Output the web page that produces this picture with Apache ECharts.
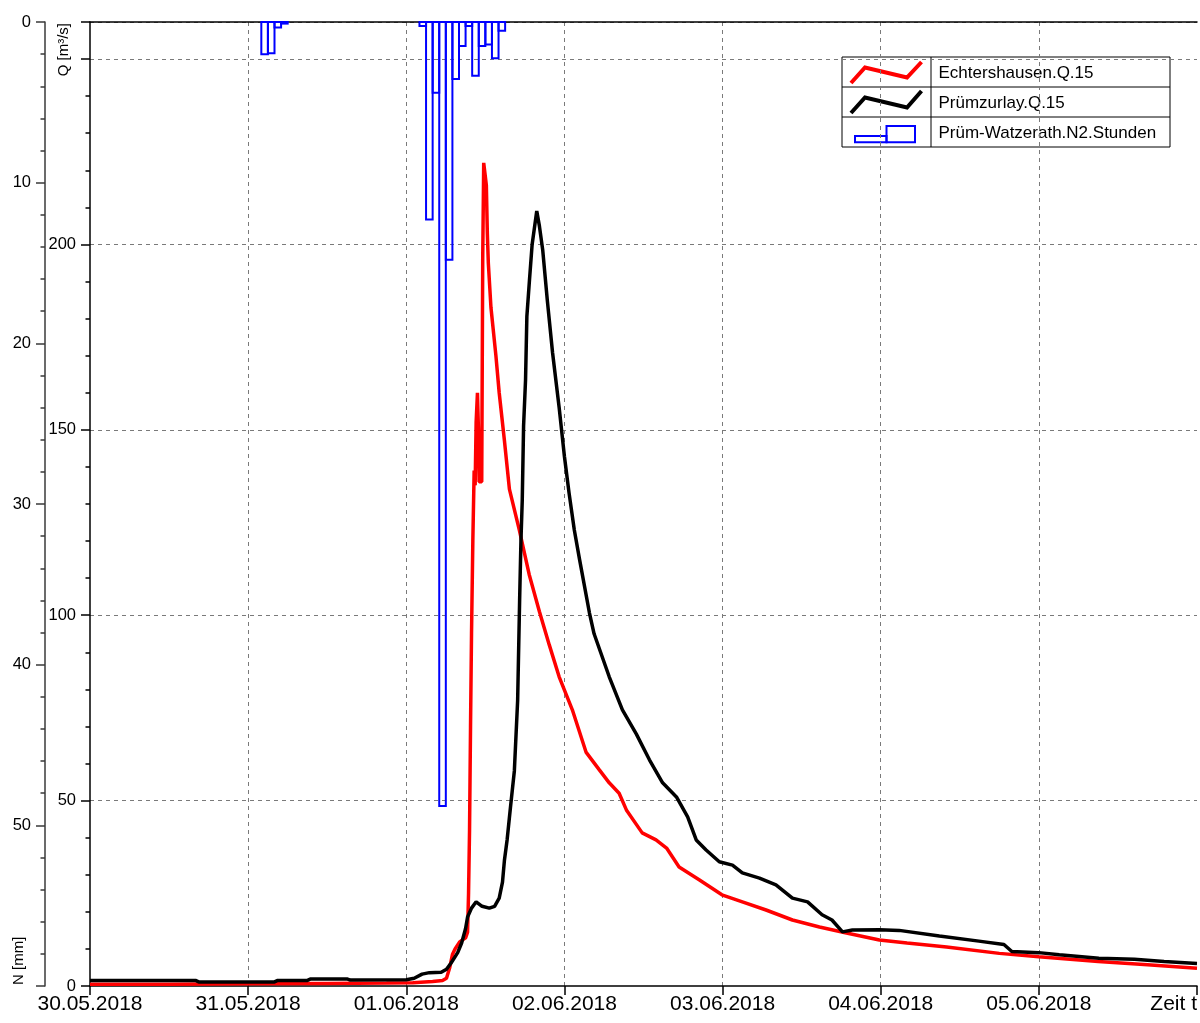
<!DOCTYPE html>
<html><head><meta charset="utf-8">
<script src="https://cdn.jsdelivr.net/npm/echarts@6/dist/echarts.min.js"></script>
<style>html,body{margin:0;padding:0;background:#fff}#c{width:1200px;height:1023px}</style>
</head><body><div id="c"></div>
<script>
// time in hours since 30.05.2018 00:00
const dayLabels = ['30.05.2018','31.05.2018','01.06.2018','02.06.2018','03.06.2018','04.06.2018','05.06.2018','Zeit t'];

// Echtershausen.Q.15  (Q in m³/s)
const echT = [0,12,24,36,45,49,52,53.5,54.1,54.6,55.0,55.4,56.1,57.0,57.3,57.45,57.6,57.75,57.9,58.1,58.3,58.45,58.6,58.8,58.95,59.05,59.45,59.6,59.75,59.95,60.15,60.3,60.45,60.85,61.6,62.1,62.9,63.65,65.15,66.65,68.2,69.7,71.2,73.2,75.3,77.3,78.8,80.3,81.4,83.8,85.9,87.5,89.4,92.5,95.9,99.0,102.6,106.6,110.7,114.8,119.8,124,130,138,144,153,160.5,168];
const echQ = [0.5,0.5,0.6,0.7,0.8,0.9,1.2,1.5,2.1,5,8.5,10,11.9,13,14.5,25,42,70,95,120,139,135,152,160,150,136,136,196,222,219,216,203,195,183,170,160,147,134,123,111,101,92,83.4,74.5,63,58.3,54.8,52,47.5,41.3,39.4,37.2,32.1,28.6,24.6,22.7,20.5,17.8,15.9,14.3,12.4,11.6,10.5,8.8,7.9,6.6,5.7,4.8];

// Prümzurlay.Q.15  (Q in m³/s)
const prmT = [0,16,16.5,28,28.5,33,33.5,39,39.5,48,49.2,50.4,51.5,53.3,54.1,54.8,55.8,56.4,57.0,57.3,57.9,58.6,59.5,60.6,61.4,62.1,62.6,62.9,63.3,63.8,64.4,64.9,65.2,65.4,65.6,65.8,66.1,66.3,66.7,67.1,67.8,68.2,68.7,69.4,70.2,71.2,72.0,72.7,73.5,74.3,75.8,76.5,78.8,80.8,82.9,84.9,86.9,89.0,90.7,92.0,93.5,95.5,97.5,99.0,101.6,104.1,106.6,108.9,111.1,112.6,114.2,115.7,119.8,122.8,128.9,134.9,138.7,139.9,144,147.1,153.1,158.5,163,168];
const prmQ = [1.5,1.5,1.1,1.1,1.5,1.5,1.9,1.9,1.6,1.7,2.1,3.2,3.6,3.7,4.5,6.2,9,11.6,15.5,18.6,21,22.7,21.5,21,21.5,23.7,28,34,39.4,48,58,77,104,120,131,151,163.5,180.6,190.5,200,209,205,198.6,185,170.8,156,142.8,133,123,115,100.6,95,83.4,74.5,68,61,54.8,51,45.6,39.4,36.7,33.5,32.6,30.5,29.1,27.3,23.7,22.7,19.2,17.8,14.6,15.1,15.2,15,13.5,12.1,11.2,9.3,9.0,8.4,7.5,7.2,6.6,6.1];

// Prüm-Watzerath.N2.Stunden  (hourly precipitation, N in mm; start hour of each bar)
const rainStart = [26,27,28,29,50,51,52,53,54,55,56,57,58,59,60,61,62];
const rainN     = [2.0,1.95,0.35,0.1,0.25,12.3,4.4,48.8,14.8,3.55,1.5,0.25,3.35,1.5,1.4,2.26,0.54];

const FONT = '"Liberation Sans", Arial, sans-serif';
const grid = {left: 90, top: 22, right: 3, bottom: 37};

const chart = echarts.init(document.getElementById('c'), null, {renderer: 'canvas'});

const dash = {type: [4, 4], color: '#7a7a7a', width: 1};

chart.setOption({
  animation: false,
  backgroundColor: '#fff',
  grid: grid,
  xAxis: [{
    type: 'value', min: 0, max: 168, interval: 24,
    axisLine: {show: true, onZero: false, lineStyle: {color: '#000', width: 1.5}},
    axisTick: {show: true, length: 9, lineStyle: {color: '#000', width: 1.5}},
    axisLabel: {
      fontSize: 21, color: '#000', fontFamily: FONT, margin: 8,
      showMinLabel: true, showMaxLabel: true, alignMaxLabel: 'right',
      formatter: v => dayLabels[Math.round(v / 24)]
    },
    splitLine: {show: true, showMinLine: false, showMaxLine: false, lineStyle: dash}
  }, {
    type: 'value', min: 0, max: 168, position: 'top',
    axisLine: {show: true, onZero: false, lineStyle: {color: '#000', width: 1.5}},
    axisTick: {show: false}, axisLabel: {show: false}, splitLine: {show: false}
  }],
  yAxis: [{
    type: 'value', min: 0, max: 260, interval: 50, position: 'left',
    axisLine: {show: true, onZero: false, lineStyle: {color: '#000', width: 1.5}},
    axisTick: {show: true, length: 9, lineStyle: {color: '#000', width: 1.5}},
    minorTick: {show: true, splitNumber: 5, length: 4.5, lineStyle: {color: '#000', width: 1.5}},
    axisLabel: {fontSize: 16.5, color: '#000', fontFamily: FONT, margin: 14,
      showMaxLabel: false,
      formatter: v => (v % 50 === 0 && v <= 200) ? String(v) : ''},
    splitLine: {show: true, showMinLine: false, lineStyle: dash}
  }, {
    type: 'value', min: 0, max: 60, interval: 10, position: 'left', offset: 45, inverse: true,
    axisLine: {show: true, onZero: false, lineStyle: {color: '#3a3a3a', width: 1.5}},
    axisTick: {show: true, length: 9, lineStyle: {color: '#3a3a3a', width: 1.5}},
    minorTick: {show: true, splitNumber: 5, length: 4.5, lineStyle: {color: '#3a3a3a', width: 1.5}},
    axisLabel: {fontSize: 16.5, color: '#000', fontFamily: FONT, margin: 14,
      formatter: v => v === 60 ? '' : String(v)},
    splitLine: {show: false}
  }],
  series: [{
    name: 'Echtershausen.Q.15', type: 'line', xAxisIndex: 0, yAxisIndex: 0,
    showSymbol: false, symbol: 'none',
    lineStyle: {color: '#ff0000', width: 3.5}, itemStyle: {color: '#ff0000'},
    data: echT.map((t, i) => [t, echQ[i]]), z: 3
  }, {
    name: 'Prümzurlay.Q.15', type: 'line', xAxisIndex: 0, yAxisIndex: 0,
    showSymbol: false, symbol: 'none',
    lineStyle: {color: '#000000', width: 3.5}, itemStyle: {color: '#000000'},
    data: prmT.map((t, i) => [t, prmQ[i]]), z: 4
  }, {
    name: 'Prüm-Watzerath.N2.Stunden', type: 'custom', xAxisIndex: 0, yAxisIndex: 1,
    encode: {x: [0, 1], y: 2},
    data: rainStart.map((s, i) => [s, s + 1, rainN[i]]),
    renderItem: function (params, api) {
      const p0 = api.coord([api.value(0), 0]);
      const p1 = api.coord([api.value(1), api.value(2)]);
      return {
        type: 'rect',
        shape: {x: p0[0], y: p0[1], width: p1[0] - p0[0], height: p1[1] - p0[1]},
        style: {fill: 'none', stroke: '#0000ff', lineWidth: 2}
      };
    },
    z: 5
  }],
  graphic: [
    // axis names
    {type: 'text', x: 63.5, y: 23, rotation: Math.PI / 2,
     style: {text: 'Q [m³/s]', font: '15px ' + FONT, fill: '#000', align: 'right', verticalAlign: 'middle'}},
    {type: 'text', x: 18.5, y: 985, rotation: Math.PI / 2,
     style: {text: 'N [mm]', font: '15px ' + FONT, fill: '#000', align: 'left', verticalAlign: 'middle'}},
    // legend table
    {type: 'group', z: 100, children: [
      {type: 'rect', shape: {x: 842, y: 57, width: 328, height: 90}, style: {fill: '#fff', stroke: '#000', lineWidth: 1}},
      {type: 'line', shape: {x1: 842, y1: 87, x2: 1170, y2: 87}, style: {stroke: '#000', lineWidth: 1}},
      {type: 'line', shape: {x1: 842, y1: 117, x2: 1170, y2: 117}, style: {stroke: '#000', lineWidth: 1}},
      {type: 'line', shape: {x1: 931, y1: 57, x2: 931, y2: 147}, style: {stroke: '#000', lineWidth: 1}},
      {type: 'polyline', shape: {points: [[851, 83], [865, 67.5], [907, 77.5], [921.5, 62]]}, style: {stroke: '#ff0000', lineWidth: 4, fill: 'none'}},
      {type: 'polyline', shape: {points: [[851, 113], [865, 97.5], [907, 107.5], [921.5, 91]]}, style: {stroke: '#000', lineWidth: 4, fill: 'none'}},
      {type: 'rect', shape: {x: 855, y: 136, width: 31.5, height: 6.3}, style: {fill: 'none', stroke: '#0000ff', lineWidth: 2}},
      {type: 'rect', shape: {x: 886.5, y: 126, width: 28.5, height: 16.3}, style: {fill: 'none', stroke: '#0000ff', lineWidth: 2}},
      {type: 'text', x: 938.5, y: 73, style: {text: 'Echtershausen.Q.15', font: '17px ' + FONT, fill: '#000', verticalAlign: 'middle'}},
      {type: 'text', x: 938.5, y: 103, style: {text: 'Prümzurlay.Q.15', font: '17px ' + FONT, fill: '#000', verticalAlign: 'middle'}},
      {type: 'text', x: 938.5, y: 133, style: {text: 'Prüm-Watzerath.N2.Stunden', font: '17px ' + FONT, fill: '#000', verticalAlign: 'middle'}}
    ]}
  ]
});
</script>
</body></html>
